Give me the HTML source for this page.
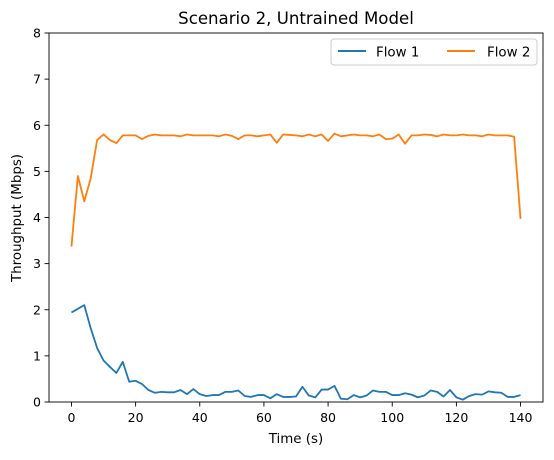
<!DOCTYPE html>
<html><head><meta charset="utf-8"><style>
body{margin:0;background:#fff}
svg text{font-family:"DejaVu Sans","Liberation Sans",sans-serif;fill:#000}
</style></head><body>
<svg id="chart" width="554" height="455" viewBox="0 0 554 455" xmlns="http://www.w3.org/2000/svg">
<rect width="554" height="455" fill="#fff"/>
<text x="296" y="24" text-anchor="middle" font-size="16.6">Scenario 2, Untrained Model</text>
<g id="plot"></g>
<text x="296" y="443" text-anchor="middle" font-size="13.4">Time (s)</text>
<text transform="translate(21,218) rotate(-90)" text-anchor="middle" font-size="13.4">Throughput (Mbps)</text>
<g>
<rect x="331" y="39" width="206" height="26" rx="3" fill="#fff" stroke="#ccc"/>
<line x1="338" y1="51" x2="366" y2="51" stroke="#1f77b4" stroke-width="2"/>
<text x="376" y="56.5" font-size="13.4">Flow 1</text>
<line x1="447" y1="51" x2="475" y2="51" stroke="#ff7f0e" stroke-width="2"/>
<text x="487" y="56.5" font-size="13.4">Flow 2</text>
</g>
</svg>
<script>
const times = Array.from({length:71},(_, i)=>i*2);
const flow1 = [1.94,2.02,2.1,1.6,1.17,0.9,0.76,0.63,0.87,0.44,0.46,0.39,0.26,0.2,0.22,0.21,0.21,0.26,0.17,0.28,0.17,0.13,0.15,0.15,0.22,0.22,0.25,0.13,0.11,0.15,0.15,0.08,0.17,0.11,0.11,0.12,0.33,0.14,0.1,0.27,0.27,0.35,0.07,0.06,0.15,0.1,0.14,0.25,0.22,0.22,0.15,0.15,0.19,0.16,0.1,0.14,0.25,0.22,0.12,0.26,0.1,0.05,0.13,0.17,0.16,0.23,0.21,0.2,0.11,0.11,0.15];
const flow2 = [3.37,4.9,4.35,4.85,5.68,5.8,5.68,5.61,5.78,5.78,5.78,5.7,5.77,5.8,5.78,5.78,5.78,5.76,5.8,5.78,5.78,5.78,5.78,5.76,5.8,5.77,5.7,5.78,5.78,5.76,5.78,5.8,5.62,5.8,5.79,5.78,5.76,5.8,5.76,5.8,5.66,5.82,5.76,5.78,5.8,5.78,5.78,5.76,5.8,5.7,5.71,5.8,5.6,5.78,5.78,5.8,5.79,5.76,5.8,5.78,5.78,5.8,5.78,5.78,5.76,5.8,5.78,5.78,5.78,5.75,3.97];
const xTicks = [0,20,40,60,80,100,120,140];
const yTicks = [0,1,2,3,4,5,6,7,8];
const L=49,R=543,T=33,B=402, xMin=-7,xMax=147,yMin=0,yMax=8;
const X=v=>L+(v-xMin)/(xMax-xMin)*(R-L);
const Y=v=>B-(v-yMin)/(yMax-yMin)*(B-T);
const NS="http://www.w3.org/2000/svg";
const g=document.getElementById('plot');
function mk(tag,attrs){const e=document.createElementNS(NS,tag);for(const k in attrs)e.setAttribute(k,attrs[k]);g.appendChild(e);return e;}
function series(vals,color,name){
  const p=mk('polyline',{points:vals.map((v,i)=>X(times[i])+','+Y(v)).join(' '),fill:'none',stroke:color,'stroke-width':1.8,'stroke-linejoin':'round'});
  
  
}
series(flow1,'#1f77b4','flow-1-line');
series(flow2,'#ff7f0e','flow-2-line');
const frame=mk('rect',{x:L,y:T,width:R-L,height:B-T,fill:'none',stroke:'#000','stroke-width':0.9});


xTicks.forEach(t=>{
  const l=mk('line',{x1:X(t),x2:X(t),y1:B,y2:B+4.5,stroke:'#000','stroke-width':0.9});
  
  
  const tx=mk('text',{x:X(t),y:B+20,'text-anchor':'middle','font-size':12.5});
  tx.textContent=t;
  
  
});
yTicks.forEach(t=>{
  const l=mk('line',{x1:L-4.5,x2:L,y1:Y(t),y2:Y(t),stroke:'#000','stroke-width':0.9});
  
  
  const tx=mk('text',{x:L-8,y:Y(t)+4.5,'text-anchor':'end','font-size':12.5});
  tx.textContent=t;
  
  
});
</script>
</body></html>
